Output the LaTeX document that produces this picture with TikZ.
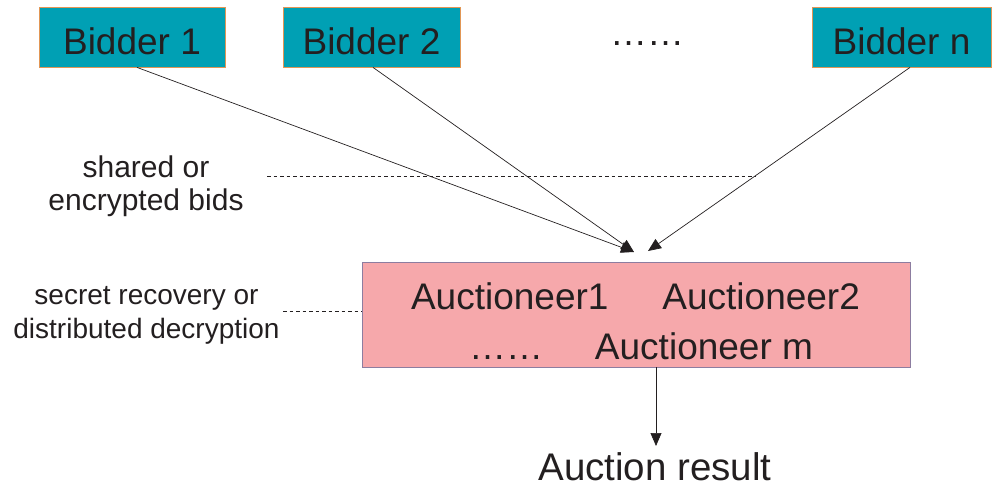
\documentclass[tikz,border=0pt]{standalone}
\usepackage{fontspec}
\setmainfont{Liberation Sans}
\usetikzlibrary{arrows.meta,calc}
\definecolor{teal}{RGB}{0,160,180}
\definecolor{tealedge}{RGB}{225,150,85}
\definecolor{pinkfill}{RGB}{246,168,171}
\definecolor{pinkedge}{RGB}{140,125,160}
\definecolor{ink}{RGB}{35,31,32}
\begin{document}
\begin{tikzpicture}[x=1pt,y=-1pt,
  bidderbox/.style={draw=tealedge, line width=0.8pt, fill=teal, minimum height=60pt,
     inner sep=0pt, text height=34pt, text depth=0pt, text=ink,
     font=\fontsize{37}{44}\selectfont},
  aucbox/.style={draw=pinkedge, line width=0.8pt, fill=pinkfill, minimum width=548pt,
     minimum height=105pt, inner sep=0pt},
  bigtext/.style={text=ink, inner sep=0pt, font=\fontsize{37}{44}\selectfont},
  labeltext/.style={text=ink, inner sep=0pt, align=center},
  link/.style={draw=ink, line width=0.7pt, -{Triangle[length=13pt,width=11pt]}},
  guide/.style={draw=ink, line width=0.7pt, dash pattern=on 3.5pt off 3pt}
]
\useasboundingbox (0,0) rectangle (992,491);

% bidders
\node[bidderbox, minimum width=186pt] (b1) at (132,37) {Bidder 1};
\node[bidderbox, minimum width=177pt] (b2) at (371.5,37) {Bidder 2};
\node[bidderbox, minimum width=179pt] (bn) at (901.5,37) {Bidder n};
\node[bigtext, anchor=base] (dots) at (647,45) {……};

% auctioneers
\node[aucbox] (auc) at (636,314.5) {};
\node[bigtext, anchor=base] (aucl1) at (635.5,309) {Auctioneer1\hspace{54pt}Auctioneer2};
\node[bigtext, anchor=base] (aucl2) at (641,359) {……\hspace{52pt}Auctioneer m};

% arrows from bidders
\coordinate (t1) at (634,252);
\coordinate (t2) at (648,251);
\draw[link] ($(b1.south)+(5,0)$) -- (t1);
\draw[link] ($(b2.south)+(1.5,0)$) -- (t1);
\draw[link] ($(bn.south)+(8.5,0)$) -- (t2);

% labels
\node[labeltext, anchor=base, font=\fontsize{30}{33}\selectfont] (lab1) at (146,210)
  {shared or\\encrypted bids};
\coordinate (d1a) at (267,176);
\coordinate (d1b) at (755,176);
\draw[guide] (d1a) -- (d1b);

\node[labeltext, anchor=base, font=\fontsize{28}{34}\selectfont] (lab2) at (146.5,338)
  {secret recovery or\\distributed decryption};
\coordinate (d2a) at (283,311);
\draw[guide] (d2a) -- (auc.west |- d2a);

% result
\node[bigtext, anchor=base, font=\fontsize{38.5}{46}\selectfont] (res) at (655,480) {Auction result};
\coordinate (rtop) at (656,446);
\draw[link] (auc.south -| rtop) -- (rtop);
\end{tikzpicture}
\end{document}
